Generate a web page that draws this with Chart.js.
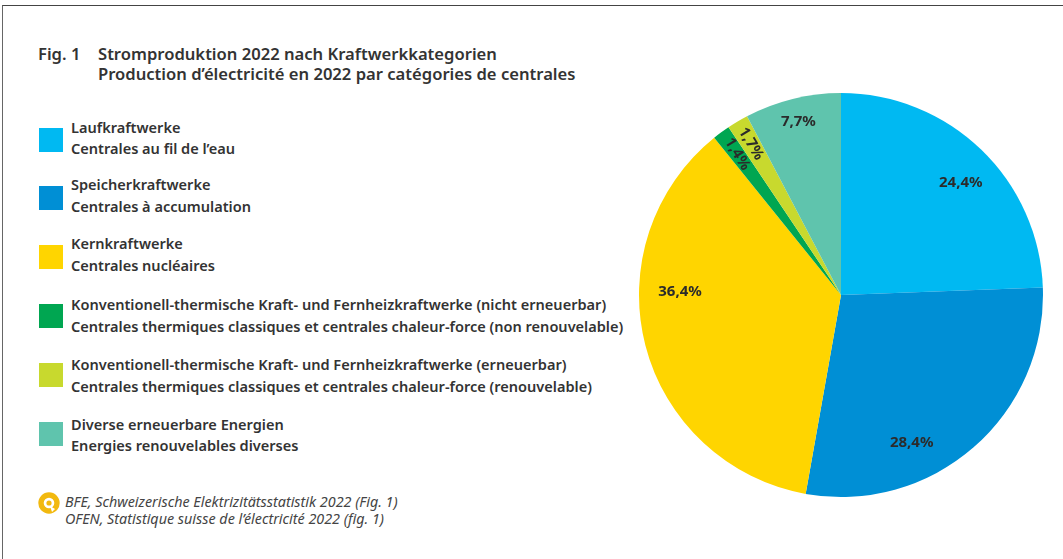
<!DOCTYPE html>
<html>
<head>
<meta charset="utf-8">
<script src="https://cdn.jsdelivr.net/npm/chart.js@4"></script>
<style>
  html, body { margin: 0; padding: 0; background: #fff; }
  body { width: 1063px; height: 559px; position: relative; overflow: hidden; font-family: "Noto Sans", sans-serif; color: #333; }
  #frame { position: absolute; left: 2px; top: 5px; right: 0; bottom: 0; border-top: 1.5px solid #444; border-left: 1.5px solid #666; }
  .title { position: absolute; font-size: 16.6px; font-weight: 600; white-space: nowrap; line-height: 20px; }
  .swatch { position: absolute; left: 39px; width: 24px; height: 24px; }
  .item { position: absolute; left: 71px; font-size: 14.55px; font-weight: 600; white-space: nowrap; line-height: 21.5px; }
  #source { position: absolute; left: 65px; top: 493px; font-size: 14.35px; font-style: italic; line-height: 17px; white-space: nowrap; color: #444; }
  #icon { position: absolute; left: 38px; top: 492px; }
  #pie { position: absolute; left: 630px; top: 85px; }
</style>
</head>
<body>
<div id="frame"></div>
<div class="title" style="left:38px;top:44px">Fig. 1</div>
<div class="title" style="left:98px;top:44px">Stromproduktion 2022 nach Kraftwerkkategorien<br>Production d’électricité en 2022 par catégories de centrales</div>
<div id="legend"></div>
<svg id="icon" width="24" height="24" viewBox="0 0 24 24">
  <circle cx="11" cy="11" r="8" fill="none" stroke="#f2b90f" stroke-width="5.4"/>
  <circle cx="11" cy="11" r="2.6" fill="#f2b90f"/>
  <path d="M12 14 L17 17 L14 20 Z" fill="#fff"/>
</svg>
<div id="source">BFE, Schweizerische Elektrizitätsstatistik 2022 (Fig. 1)<br>OFEN, Statistique suisse de l’électricité 2022 (fig. 1)</div>
<canvas id="pie" width="422" height="420"></canvas>
<script>
const labelsDe = [
  'Laufkraftwerke',
  'Speicherkraftwerke',
  'Kernkraftwerke',
  'Konventionell-thermische Kraft- und Fernheizkraftwerke (nicht erneuerbar)',
  'Konventionell-thermische Kraft- und Fernheizkraftwerke (erneuerbar)',
  'Diverse erneuerbare Energien'
]
const labelsFr = [
  'Centrales au fil de l’eau',
  'Centrales à accumulation',
  'Centrales nucléaires',
  'Centrales thermiques classiques et centrales chaleur-force (non renouvelable)',
  'Centrales thermiques classiques et centrales chaleur-force (renouvelable)',
  'Energies renouvelables diverses'
]
const shares = [24.4, 28.4, 36.4, 1.4, 1.7, 7.7]
const colors = ['#00b9f2', '#008fd5', '#ffd500', '#00a651', '#c8d92e', '#5fc4ad']

// legend rows, top of each swatch and of its text block
const swatchTops = [128, 186, 245, 304, 363, 422]
const textTops = [116.5, 174, 233, 294, 354, 413.5]

const legend = document.getElementById('legend')
labelsDe.forEach((de, i) => {
  const sw = document.createElement('div')
  sw.className = 'swatch'
  sw.style.top = swatchTops[i] + 'px'
  sw.style.background = colors[i]
  legend.appendChild(sw)
  const txt = document.createElement('div')
  txt.className = 'item'
  txt.style.top = textTops[i] + 'px'
  txt.textContent = de
  txt.appendChild(document.createElement('br'))
  txt.appendChild(document.createTextNode(labelsFr[i]))
  legend.appendChild(txt)
})

// where the value text sits relative to the slice middle
const labelShift = [3, 15.5, 15.5, 0, 0, 0]     // degrees clockwise
const labelRadius = [164, 164, 161, 175, 176, 178]
const labelTilt = [0, 0, 0, 59, 59, 0]      // degrees

const valueLabels = {
  id: 'valueLabels',
  afterDatasetsDraw(chart) {
    const ctx = chart.ctx
    chart.getDatasetMeta(0).data.forEach((arc, i) => {
      const p = arc.getProps(['x', 'y', 'startAngle', 'endAngle'], true)
      const a = (p.startAngle + p.endAngle) / 2 + labelShift[i] * Math.PI / 180
      ctx.save()
      ctx.translate(p.x + Math.cos(a) * labelRadius[i], p.y + Math.sin(a) * labelRadius[i])
      ctx.rotate(labelTilt[i] * Math.PI / 180)
      ctx.font = '700 15px "Noto Sans"'
      ctx.fillStyle = '#2b2b2b'
      ctx.textAlign = 'center'
      ctx.textBaseline = 'middle'
      ctx.fillText(shares[i].toFixed(1).replace('.', ',') + '%', 0, 0)
      ctx.restore()
    })
  }
}

new Chart(document.getElementById('pie'), {
  type: 'pie',
  data: {
    labels: labelsDe,
    datasets: [{ data: shares, backgroundColor: colors, borderWidth: 0 }]
  },
  options: {
    responsive: false,
    animation: false,
    radius: 202,
    layout: { padding: 0 },
    plugins: { legend: { display: false }, tooltip: { enabled: false } }
  },
  plugins: [valueLabels]
})
</script>
</body>
</html>
